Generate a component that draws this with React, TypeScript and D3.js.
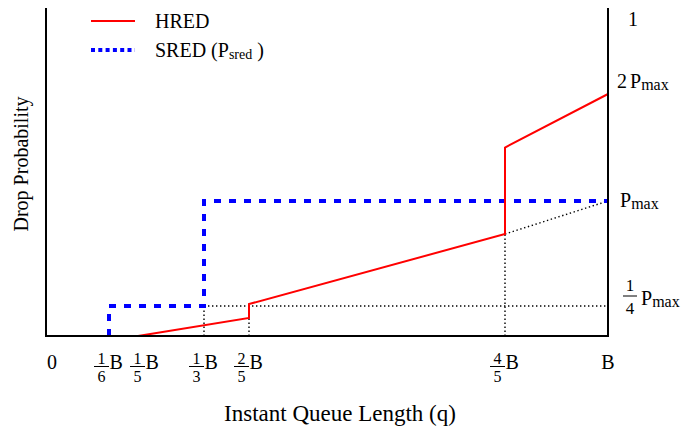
import * as d3 from "d3";

const W = 683;
const H = 427;

// schematic axes: the original figure is not to scale, so both scales are piecewise
const X_DOMAIN = [0, 1 / 6, 1 / 5, 1 / 3, 2 / 5, 4 / 5, 1];
const X_RANGE = [46, 109, 138, 204, 249, 505, 608];
const Y_DOMAIN = [0, 0.25, 1, 2]; // in units of Pmax
const Y_RANGE = [336, 306, 201, 94];
const TOP = 8;

// queue length (fraction of B) and drop probability (in Pmax)
const hredQ = [1 / 5, 2 / 5, 2 / 5, 4 / 5, 4 / 5, 1];
const hredP = [0, 0.15, 0.264, 0.764, 1.5, 2];
const sredQ = [1 / 6, 1 / 6, 1 / 3, 1 / 3, 1];
const sredP = [0, 0.25, 0.25, 1, 1];

// x tick labels: value, numerator, denominator
const xTicks = [
  { q: 0, num: "", den: "", text: "0" },
  { q: 1 / 6, num: "1", den: "6", text: "B" },
  { q: 1 / 5, num: "1", den: "5", text: "B" },
  { q: 1 / 3, num: "1", den: "3", text: "B" },
  { q: 2 / 5, num: "2", den: "5", text: "B" },
  { q: 4 / 5, num: "4", den: "5", text: "B" },
  { q: 1, num: "", den: "", text: "B" },
];
const X_NUDGE: Record<number, number> = { 0: 6, 2: 7 };

const SERIF = { fontFamily: "Liberation Serif, Times New Roman, DejaVu Serif, serif" };

const x = d3.scaleLinear().domain(X_DOMAIN).range(X_RANGE);
const y = d3.scaleLinear().domain(Y_DOMAIN).range(Y_RANGE);

const line = d3
  .line<[number, number]>()
  .x((d) => x(d[0]))
  .y((d) => y(d[1]));

const hred = hredQ.map((q, i) => [q, hredP[i]] as [number, number]);
const sred = sredQ.map((q, i) => [q, sredP[i]] as [number, number]);

// dotted guide lines
const guides: [number, number][][] = [
  [
    [1 / 3, 0.25],
    [1, 0.25],
  ],
  [
    [1 / 3, 0],
    [1 / 3, 0.25],
  ],
  [
    [2 / 5, 0],
    [2 / 5, hredP[1]],
  ],
  [
    [4 / 5, 0],
    [4 / 5, hredP[3]],
  ],
  [
    [4 / 5, hredP[3]],
    [1, 1],
  ],
];

const Pmax = ({ px, py }: { px: number; py: number }) => (
  <text x={px} y={py} fontSize={20}>
    P
    <tspan fontSize={16} dy={2}>
      max
    </tspan>
  </text>
);

export default function App() {
  const x0 = x(0);
  const x1 = x(1);
  const yb = y(0);

  return (
    <svg
      width={W}
      height={H}
      style={{ position: "absolute", left: 0, top: 0, background: "#fff", ...SERIF }}
    >
      {guides.map((g, i) => (
        <path
          key={i}
          d={line(g) ?? ""}
          fill="none"
          stroke="#000"
          strokeWidth={1.4}
          strokeDasharray="1.4 2.6"
        />
      ))}

      <path
        d={line(sred) ?? ""}
        fill="none"
        stroke="#0000ff"
        strokeWidth={4}
        strokeDasharray="7 8"
      />
      <path d={line(hred) ?? ""} fill="none" stroke="#ff0000" strokeWidth={2} />

      {/* frame: left, bottom, right */}
      <path
        d={`M${x0},${TOP}V${yb}H${x1}V${TOP}`}
        fill="none"
        stroke="#000"
        strokeWidth={2}
      />

      {/* legend */}
      <line x1={91} x2={135} y1={21} y2={21} stroke="#ff0000" strokeWidth={2} />
      <text x={155} y={28} fontSize={20}>
        HRED
      </text>
      <line
        x1={91}
        x2={135}
        y1={50}
        y2={50}
        stroke="#0000ff"
        strokeWidth={4}
        strokeDasharray="4 3.3"
      />
      <text x={155} y={57} fontSize={20}>
        SRED (P
        <tspan fontSize={14} dy={2}>
          sred
        </tspan>
        <tspan dy={-2}> )</tspan>
      </text>

      {/* x tick labels */}
      {xTicks.map((t, i) => {
        const cx = x(t.q) + (X_NUDGE[i] ?? 0);
        if (!t.num) {
          return (
            <text key={i} x={cx} y={369} textAnchor="middle" fontSize={20}>
              {t.text}
            </text>
          );
        }
        return (
          <g key={i} transform={`translate(${cx},0)`}>
            <text x={-7.5} y={364} textAnchor="middle" fontSize={16}>
              {t.num}
            </text>
            <line x1={-15} x2={0} y1={366.5} y2={366.5} stroke="#000" strokeWidth={1} />
            <text x={-7.5} y={382} textAnchor="middle" fontSize={16}>
              {t.den}
            </text>
            <text x={0.5} y={369} fontSize={20}>
              {t.text}
            </text>
          </g>
        );
      })}

      {/* right labels */}
      <text x={628} y={26} fontSize={20}>
        1
      </text>
      <text x={617} y={88} fontSize={20}>
        2
      </text>
      <Pmax px={630} py={88} />
      <Pmax px={620} py={207} />
      <text x={630} y={291} textAnchor="middle" fontSize={17}>
        1
      </text>
      <line x1={623} x2={637} y1={296} y2={296} stroke="#000" strokeWidth={1} />
      <text x={630} y={314} textAnchor="middle" fontSize={17}>
        4
      </text>
      <Pmax px={641} py={305} />

      {/* axis titles */}
      <text transform="translate(28,164) rotate(-90)" textAnchor="middle" fontSize={20}>
        Drop Probability
      </text>
      <text x={340} y={421} textAnchor="middle" fontSize={23}>
        Instant Queue Length (q)
      </text>
    </svg>
  );
}
